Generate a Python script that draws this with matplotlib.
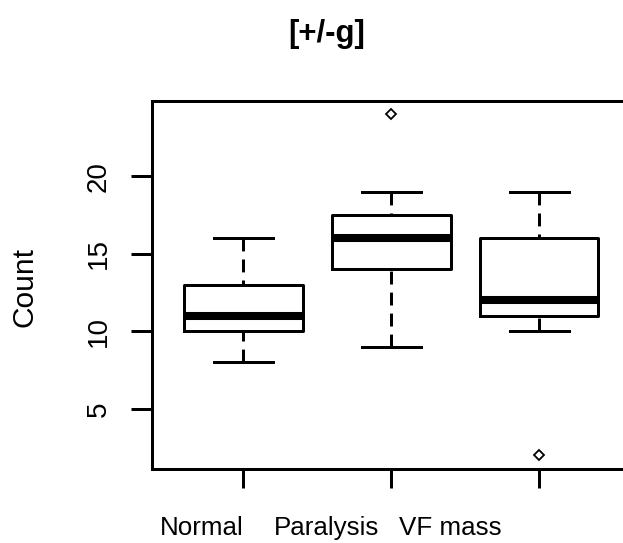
import matplotlib
matplotlib.use("Agg")
import matplotlib.pyplot as plt

categories = ["Normal", "Paralysis", "VF mass"]
whis_lo = [8, 9, 10]
q1 = [10, 14, 11]
medians = [11, 16, 12]
q3 = [13, 17.5, 16]
whis_hi = [16, 19, 19]
fliers = [[], [24], [2]]
yticks = [5, 10, 15, 20]
title = "[+/-g]"
ylabel = "Count"

W, H = 623, 543
fig = plt.figure(figsize=(W / 100, H / 100), dpi=100)
left, right, top, bottom = 151.7, 631.0, 100.7, 469.0
ax = fig.add_axes([left / W, (H - bottom) / H, (right - left) / W, (bottom - top) / H])

stats = []
for i, c in enumerate(categories):
    stats.append(dict(label=c, whislo=whis_lo[i], q1=q1[i], med=medians[i],
                      q3=q3[i], whishi=whis_hi[i], fliers=fliers[i]))

lw = 2.16
res = ax.bxp(stats, positions=[1, 2, 3], widths=0.8, showfliers=True,
             boxprops=dict(color="black", linewidth=lw),
             medianprops=dict(color="black", linewidth=5.8, solid_capstyle="butt"),
             whiskerprops=dict(color="black", linewidth=lw,
                               linestyle=(0, (4.3, 2.7)), dash_capstyle="butt"),
             capprops=dict(color="black", linewidth=lw),
             capwidths=0.4,
             flierprops=dict(marker="D", markersize=5, markerfacecolor="white",
                             markeredgecolor="black", markeredgewidth=1.3,
                             linestyle="none"))
# start the dash pattern at the whisker end (as in R)
for ln in res["whiskers"]:
    ln.set_ydata(list(ln.get_ydata())[::-1])

ax.set_xlim(0.38, 3.62)
ax.set_ylim(1.12, 24.88)
ax.set_yticks(yticks)
ax.set_yticklabels([str(v) for v in yticks])
ax.set_xticks([1, 2, 3])
ax.set_xticklabels([])
for s in ax.spines.values():
    s.set_linewidth(lw)
ax.tick_params(axis="y", length=15, width=lw, pad=14, labelsize=20, labelrotation=90)
ax.tick_params(axis="x", length=13.5, width=lw)
for t in ax.get_yticklabels():
    t.set_family(["Liberation Sans", "DejaVu Sans"])
    t.set_verticalalignment("center")

xlab_px = [202, 327, 450]
for c, xp in zip(categories, xlab_px):
    fig.text(xp / W, 1 - 535 / H, c, ha="center", va="baseline", fontsize=18.7,
             family=["Liberation Sans", "DejaVu Sans"])

fig.text(24 / W, 1 - 287 / H, ylabel, rotation=90, ha="center", va="center",
         fontsize=21.5, family=["Liberation Sans", "DejaVu Sans"])
fig.text(327 / W, 1 - 34 / H, title, ha="center", va="center", fontsize=22.4,
         fontweight="bold", family=["Liberation Sans", "DejaVu Sans"])

fig.savefig("out.png", dpi=100)
